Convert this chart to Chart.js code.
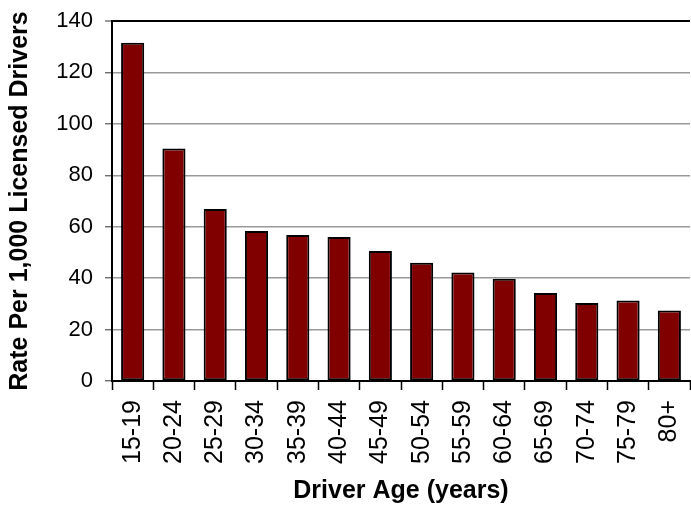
<!DOCTYPE html>
<html>
<head>
<meta charset="utf-8">
<script src="https://cdn.jsdelivr.net/npm/chart.js@4/dist/chart.umd.min.js"></script>
<style>
  html, body { margin: 0; padding: 0; background: #fff; }
  #wrap { width: 691px; height: 508px; position: relative; }
</style>
</head>
<body>
<div id="wrap"><canvas id="c" width="691" height="508"></canvas></div>
<script>
const ageGroups = ["15-19","20-24","25-29","30-34","35-39","40-44","45-49","50-54","55-59","60-64","65-69","70-74","75-79","80+"];
const ratePer1000 = [131.5, 90.4, 66.9, 58.3, 56.8, 56.0, 50.6, 46.0, 42.2, 39.8, 34.2, 30.3, 31.3, 27.4];
const yTickValues = [0, 20, 40, 60, 80, 100, 120, 140];
const yAxisTitle = "Rate Per 1,000 Licensed Drivers";
const xAxisTitle = "Driver Age (years)";

new Chart(document.getElementById('c'), {
  type: 'bar',
  data: {
    labels: ageGroups,
    datasets: [{
      data: ratePer1000,
      backgroundColor: '#800000',
      borderColor: '#000000',
      borderWidth: 2,
      borderSkipped: false,
      barPercentage: 0.56,
      categoryPercentage: 1.0
    }]
  },
  options: {
    responsive: false,
    animation: false,
    events: [],
    layout: { padding: { top: 21, right: 1, left: 0, bottom: 0 } },
    plugins: { legend: { display: false }, tooltip: { enabled: false } },
    scales: {
      x: {
        grid: {
          offset: true,
          drawOnChartArea: false,
          drawTicks: true,
          tickLength: 9,
          tickWidth: 1.5,
          tickColor: '#000'
        },
        border: { display: true, color: '#000', width: 2, z: 1 },
        ticks: {
          autoSkip: false,
          minRotation: 90,
          maxRotation: 90,
          padding: 10,
          color: '#000',
          font: { family: 'Liberation Sans, Arial, sans-serif', size: 25 }
        },
        title: {
          display: true,
          text: xAxisTitle,
          color: '#000',
          font: { family: 'Liberation Sans, Arial, sans-serif', size: 25, weight: 'bold' },
          padding: { top: 0, bottom: 2 }
        },
        afterFit: (s) => { s.height = 127; s.paddingLeft = 0; s.paddingRight = 0; }
      },
      y: {
        min: 0,
        max: 140,
        afterBuildTicks: (s) => { s.ticks = yTickValues.map(v => ({ value: v })); },
        grid: {
          color: (ctx) => (ctx.tick && ctx.tick.value === 140) ? '#000' : '#999',
          lineWidth: (ctx) => (ctx.tick && ctx.tick.value === 140) ? 2 : 1.5,
          tickColor: '#555',
          tickLength: 7,
          tickWidth: 1.2
        },
        border: { display: true, color: '#000', width: 2 },
        ticks: {
          padding: 12,
          color: '#000',
          font: { family: 'Liberation Sans, Arial, sans-serif', size: 22 }
        },
        title: {
          display: true,
          text: yAxisTitle,
          color: '#000',
          font: { family: 'Liberation Sans, Arial, sans-serif', size: 25, weight: 'bold' },
          padding: { top: 5, bottom: 0 }
        },
        afterFit: (s) => { s.width = 112; s.paddingTop = 0; s.paddingBottom = 0; }
      }
    }
  }
});
</script>
</body>
</html>
